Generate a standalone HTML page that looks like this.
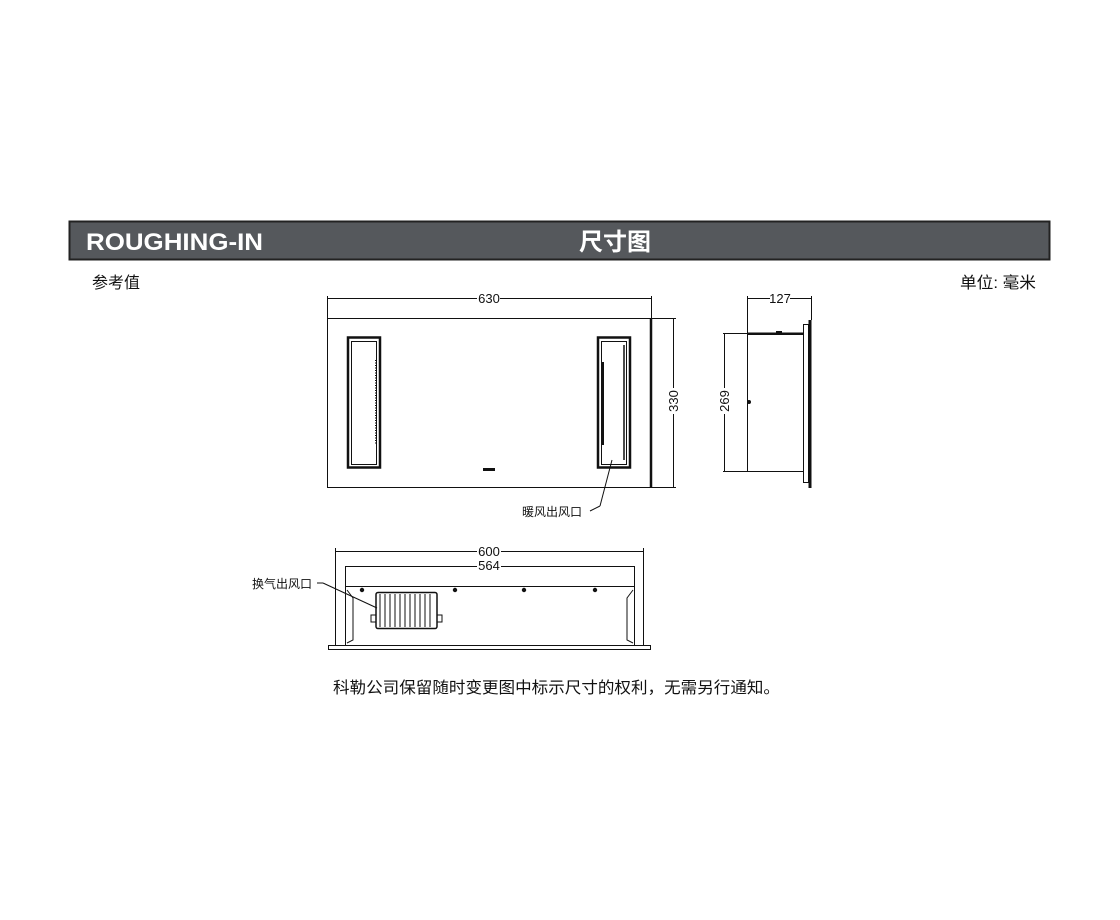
<!DOCTYPE html>
<html><head><meta charset="utf-8"><style>
html,body{margin:0;padding:0;background:#fff;}
body{width:1120px;height:920px;position:relative;overflow:hidden;font-family:"Liberation Sans","Noto Sans CJK SC",sans-serif;}
</style></head><body>
<svg width="1120" height="920" viewBox="0 0 1120 920" xmlns="http://www.w3.org/2000/svg" style="position:absolute;left:0;top:0">
<rect x="69.5" y="221.5" width="980" height="38" fill="#55585c" stroke="#222" stroke-width="2"/>
<text x="86" y="250" font-family="Liberation Sans, sans-serif" font-weight="bold" font-size="24" fill="#fff" textLength="177" lengthAdjust="spacingAndGlyphs">ROUGHING-IN</text>
<text x="615" y="250" text-anchor="middle" font-family="Noto Sans CJK SC, sans-serif" font-weight="bold" font-size="24" fill="#fff">尺寸图</text>
<g font-family="Liberation Sans, Noto Sans CJK SC, sans-serif" font-size="16" fill="#111">
<text x="92" y="288">参考值</text>
<text x="960" y="288" textLength="76" lengthAdjust="spacingAndGlyphs">单位: 毫米</text>
</g>
<g fill="none" stroke="#111" stroke-width="1">
<rect x="327.5" y="318.5" width="323" height="169"/>
<line x1="651" y1="318" x2="651" y2="488" stroke-width="2.5"/>
<line x1="327.5" y1="296" x2="327.5" y2="318"/>
<line x1="651.5" y1="296" x2="651.5" y2="318"/>
<line x1="328" y1="298.5" x2="477" y2="298.5"/>
<line x1="500" y1="298.5" x2="651" y2="298.5"/>
<line x1="651" y1="318.5" x2="676" y2="318.5"/>
<line x1="651" y1="487.5" x2="676" y2="487.5"/>
<line x1="673.5" y1="319" x2="673.5" y2="388"/>
<line x1="673.5" y1="414" x2="673.5" y2="487"/>
<rect x="348" y="337.5" width="32" height="130" stroke-width="2.5"/>
<rect x="351.5" y="341.5" width="25" height="123"/>
<line x1="376" y1="360" x2="376" y2="445" stroke-dasharray="1 1.5" stroke-width="2"/>
<rect x="598" y="337.5" width="32" height="130" stroke-width="2.5"/>
<rect x="601.5" y="341.5" width="25" height="123"/>
<line x1="603" y1="362" x2="603" y2="445" stroke-width="2"/>
<line x1="624" y1="345" x2="624" y2="460" stroke-width="1.5"/>
<line x1="612" y1="460" x2="600" y2="506"/>
<line x1="600" y1="506" x2="590" y2="511"/>
<line x1="747.5" y1="296" x2="747.5" y2="333"/>
<line x1="811.5" y1="296" x2="811.5" y2="320"/>
<line x1="748" y1="298.5" x2="770" y2="298.5"/>
<line x1="790" y1="298.5" x2="811" y2="298.5"/>
<rect x="747.5" y="334.5" width="56" height="137"/>
<line x1="747" y1="333.5" x2="804" y2="333.5" stroke-width="2"/>
<rect x="803.5" y="324.5" width="5" height="158"/>
<line x1="810" y1="320" x2="810" y2="488" stroke-width="3"/>
<line x1="723" y1="333.5" x2="747" y2="333.5"/>
<line x1="723" y1="471.5" x2="747" y2="471.5"/>
<line x1="724.5" y1="334" x2="724.5" y2="388"/>
<line x1="724.5" y1="414" x2="724.5" y2="471"/>
<line x1="335.5" y1="548" x2="335.5" y2="645"/>
<line x1="643.5" y1="548" x2="643.5" y2="645"/>
<line x1="336" y1="551.5" x2="477" y2="551.5"/>
<line x1="501" y1="551.5" x2="643" y2="551.5"/>
<rect x="345.5" y="566.5" width="289" height="79"/>
<line x1="346" y1="586.5" x2="634" y2="586.5"/>
<rect x="328.5" y="645.5" width="322" height="4"/>
<path d="M347 590 L353 598 L353 640 L347 643"/>
<path d="M633 590 L627 598 L627 640 L633 643"/>
<rect x="376" y="592.5" width="61" height="36" stroke-width="1.5" rx="2"/>
<path d="M380 594 V627 M385 594 V627 M390 594 V627 M395 594 V627 M400 594 V627 M405 594 V627 M410 594 V627 M415 594 V627 M420 594 V627 M425 594 V627 M430 594 V627"/>
<rect x="371" y="615" width="5" height="7"/><rect x="437" y="615" width="5" height="7"/>
<line x1="317" y1="583" x2="323" y2="583"/>
<line x1="323" y1="583" x2="377" y2="608"/>
</g>
<g fill="#111">
<rect x="483" y="468" width="12" height="3"/>
<rect x="776" y="331" width="6" height="3"/>
<circle cx="749" cy="402" r="2"/>
<circle cx="362" cy="590" r="2.2"/><circle cx="455" cy="590" r="2.2"/><circle cx="524" cy="590" r="2.2"/><circle cx="595" cy="590" r="2.2"/>
</g>
<g font-family="Liberation Sans, Noto Sans CJK SC, sans-serif" font-size="13" fill="#111">
<rect x="477" y="560" width="24" height="12" fill="#fff"/>
<text x="489" y="303" text-anchor="middle">630</text>
<text x="780" y="303" text-anchor="middle">127</text>
<text x="489" y="556" text-anchor="middle">600</text>
<text x="489" y="570" text-anchor="middle">564</text>
<text transform="translate(678,401) rotate(-90)" text-anchor="middle">330</text>
<text transform="translate(729,401) rotate(-90)" text-anchor="middle">269</text>
<text x="522" y="516" font-size="12">暖风出风口</text>
<text x="252" y="588" font-size="12">换气出风口</text>
<text x="333" y="693" font-size="16" textLength="447" lengthAdjust="spacingAndGlyphs">科勒公司保留随时变更图中标示尺寸的权利，无需另行通知。</text>
</g>
</svg>
</body></html>
